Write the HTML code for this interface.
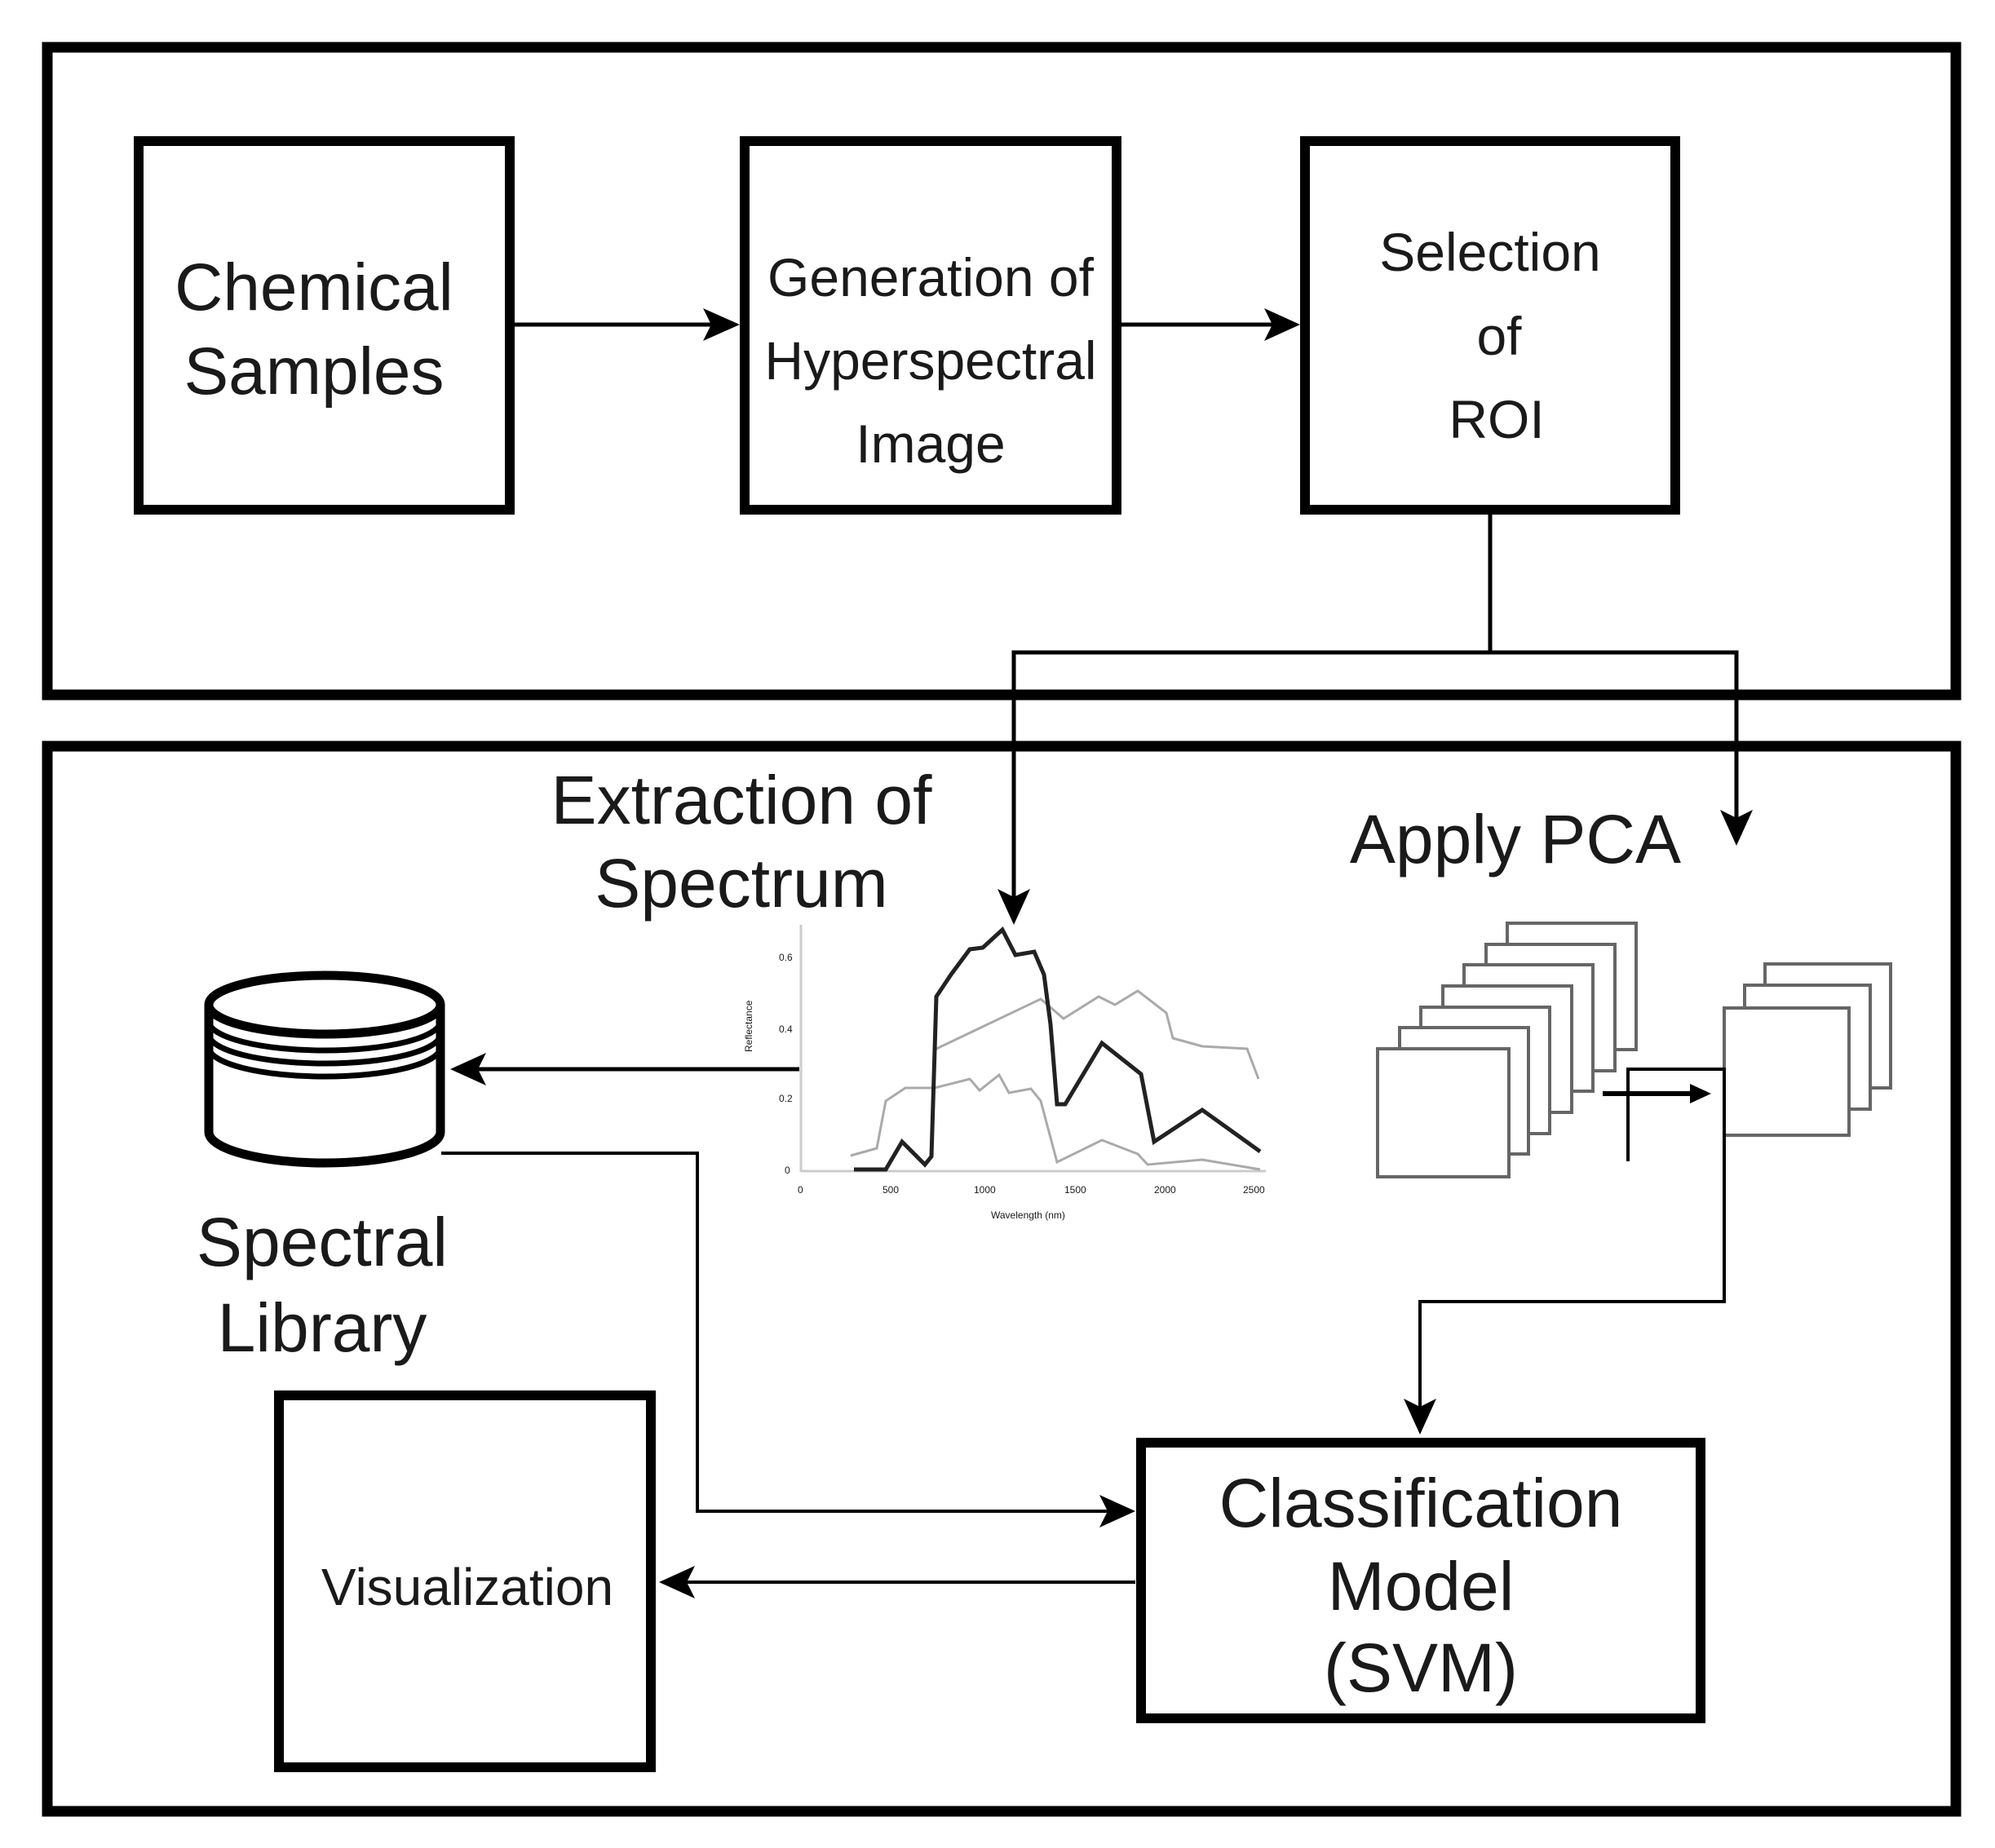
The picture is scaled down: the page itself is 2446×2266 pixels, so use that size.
<!DOCTYPE html>
<html><head><meta charset="utf-8"><style>
html,body{margin:0;padding:0;background:#fff;}
svg{display:block;}
text{font-family:"Liberation Sans",sans-serif;fill:#1a1a1a;}
</style></head><body>
<svg width="2446" height="2266" viewBox="0 0 2446 2266" xmlns="http://www.w3.org/2000/svg">
<defs>
<marker id="ah" markerWidth="10" markerHeight="10" refX="9" refY="5" orient="auto" markerUnits="userSpaceOnUse" viewBox="0 0 10 10">
</marker>
</defs>
<!-- frames -->
<rect x="58" y="58" width="2340" height="794" fill="none" stroke="#000" stroke-width="13"/>
<rect x="58" y="915" width="2340" height="1306" fill="none" stroke="#000" stroke-width="13"/>
<!-- top boxes -->
<rect x="170" y="173" width="455" height="452" fill="#fff" stroke="#000" stroke-width="12"/>
<rect x="913" y="173" width="456" height="452" fill="#fff" stroke="#000" stroke-width="12"/>
<rect x="1600" y="173" width="454" height="452" fill="#fff" stroke="#000" stroke-width="12"/>
<text x="385" y="380" font-size="82" text-anchor="middle">Chemical</text>
<text x="385" y="483" font-size="82" text-anchor="middle">Samples</text>
<text x="1141" y="363" font-size="66" text-anchor="middle">Generation of</text>
<text x="1141" y="465" font-size="66" text-anchor="middle">Hyperspectral</text>
<text x="1141" y="567" font-size="66" text-anchor="middle">Image</text>
<text x="1827" y="332" font-size="66" text-anchor="middle">Selection</text>
<text x="1838" y="435" font-size="66" text-anchor="middle">of</text>
<text x="1835" y="537" font-size="66" text-anchor="middle">ROI</text>
<!-- top arrows -->
<g stroke="#000" stroke-width="5" fill="none">
<line x1="631" y1="398" x2="880" y2="398"/>
<line x1="1375" y1="398" x2="1565" y2="398"/>
<polyline points="1827,631 1827,800 1243,800 1243,1105"/>
<polyline points="1827,800 2129,800 2129,1010"/>
</g>
<g fill="#000">
<polygon points="907,398 862,378 872,398 862,418"/>
<polygon points="1594,398 1550,378 1560,398 1550,418"/>
<polygon points="1243,1134 1223,1090 1243,1100 1263,1090"/>
<polygon points="2129,1037 2109,993 2129,1003 2149,993"/>
</g>
<!-- labels bottom -->
<text x="909" y="1010" font-size="84" text-anchor="middle">Extraction of</text>
<text x="909" y="1112" font-size="84" text-anchor="middle">Spectrum</text>
<text x="1858" y="1058" font-size="84" text-anchor="middle">Apply PCA</text>
<text x="395" y="1552" font-size="84" text-anchor="middle">Spectral</text>
<text x="395" y="1657" font-size="84" text-anchor="middle">Library</text>
<!-- cylinder -->
<g stroke="#000" stroke-width="11" fill="#fff">
<path d="M256,1232 L256,1388 A142,38 0 0 0 540,1388 L540,1232"/>
<ellipse cx="398" cy="1232" rx="142" ry="36"/>
</g>
<g stroke="#000" stroke-width="7" fill="none">
<path d="M256,1252 A142,36 0 0 0 540,1252"/>
<path d="M256,1268 A142,36 0 0 0 540,1268"/>
<path d="M256,1284 A142,36 0 0 0 540,1284"/>
</g>
<!-- spectrum plot -->
<g stroke="#ccc" stroke-width="3" fill="none">
<line x1="982" y1="1134" x2="982" y2="1437"/>
<line x1="982" y1="1436" x2="1552" y2="1436"/>
</g>
<g font-size="12" fill="#777">
<text x="955" y="1178">0.6</text><text x="955" y="1266">0.4</text><text x="955" y="1351">0.2</text><text x="962" y="1439">0</text>
<text x="978" y="1463">0</text><text x="1082" y="1463">500</text><text x="1194" y="1463">1000</text><text x="1305" y="1463">1500</text><text x="1415" y="1463">2000</text><text x="1524" y="1463">2500</text>
<text x="1215" y="1494">Wavelength (nm)</text>
<text transform="translate(922,1290) rotate(-90)">Reflectance</text>
</g>
<polyline fill="none" stroke="#aaa" stroke-width="3" points="1148,1286 1276,1225 1304,1249 1347,1222 1367,1232 1395,1215 1430,1242 1438,1273 1474,1283 1529,1286 1543,1323"/>
<polyline fill="none" stroke="#aaa" stroke-width="3" points="1043,1417 1075,1408 1086,1350 1110,1334 1146,1334 1189,1323 1201,1337 1225,1318 1237,1340 1264,1335 1276,1350 1296,1425 1351,1398 1395,1415 1407,1428 1474,1422 1545,1434"/>
<polyline fill="none" stroke="#222" stroke-width="5" points="1047,1434 1086,1434 1106,1400 1134,1428 1142,1418 1148,1222 1166,1195 1189,1164 1205,1162 1229,1140 1245,1171 1268,1167 1280,1195 1288,1256 1296,1354 1306,1354 1351,1279 1399,1317 1415,1400 1474,1361 1545,1412"/>
<!-- arrow spectrum -> library -->
<line x1="980" y1="1311" x2="580" y2="1311" stroke="#000" stroke-width="5"/>
<polygon points="552,1311 596,1291 586,1311 596,1331" fill="#000"/>
<!-- PCA stacks -->
<g stroke="#666" stroke-width="4" fill="#fff">
<rect x="1848" y="1132" width="158" height="155"/>
<rect x="1822" y="1158" width="158" height="155"/>
<rect x="1795" y="1183" width="158" height="155"/>
<rect x="1769" y="1209" width="158" height="155"/>
<rect x="1742" y="1235" width="158" height="155"/>
<rect x="1716" y="1260" width="158" height="155"/>
<rect x="1689" y="1286" width="161" height="157"/>
<rect x="2164" y="1182" width="154" height="152"/>
<rect x="2139" y="1208" width="154" height="152"/>
<rect x="2114" y="1236" width="153" height="156"/>
</g>
<g stroke="#000" stroke-width="4" fill="none">
<polyline points="1996,1424 1996,1311 2114,1311 2114,1596 1741,1596 1741,1730"/>
<line x1="1965" y1="1341" x2="2080" y2="1341" stroke-width="6"/>
</g>
<polygon points="2098,1341 2072,1329 2072,1353" fill="#000"/>
<polygon points="1741,1759 1721,1715 1741,1725 1761,1715" fill="#000"/>
<!-- library -> classification -->
<polyline points="541,1414 855,1414 855,1853 1365,1853" fill="none" stroke="#000" stroke-width="4"/>
<polygon points="1392,1853 1348,1833 1358,1853 1348,1873" fill="#000"/>
<!-- bottom boxes -->
<rect x="342" y="1711" width="456" height="456" fill="#fff" stroke="#000" stroke-width="12"/>
<text x="573" y="1968" font-size="64" text-anchor="middle">Visualization</text>
<rect x="1399" y="1769" width="686" height="338" fill="#fff" stroke="#000" stroke-width="12"/>
<text x="1742" y="1872" font-size="84" text-anchor="middle">Classification</text>
<text x="1742" y="1974" font-size="84" text-anchor="middle">Model</text>
<text x="1742" y="2074" font-size="84" text-anchor="middle">(SVM)</text>
<line x1="1392" y1="1940" x2="835" y2="1940" stroke="#000" stroke-width="4"/>
<polygon points="808,1940 852,1920 842,1940 852,1960" fill="#000"/>
</svg>
</body></html>
